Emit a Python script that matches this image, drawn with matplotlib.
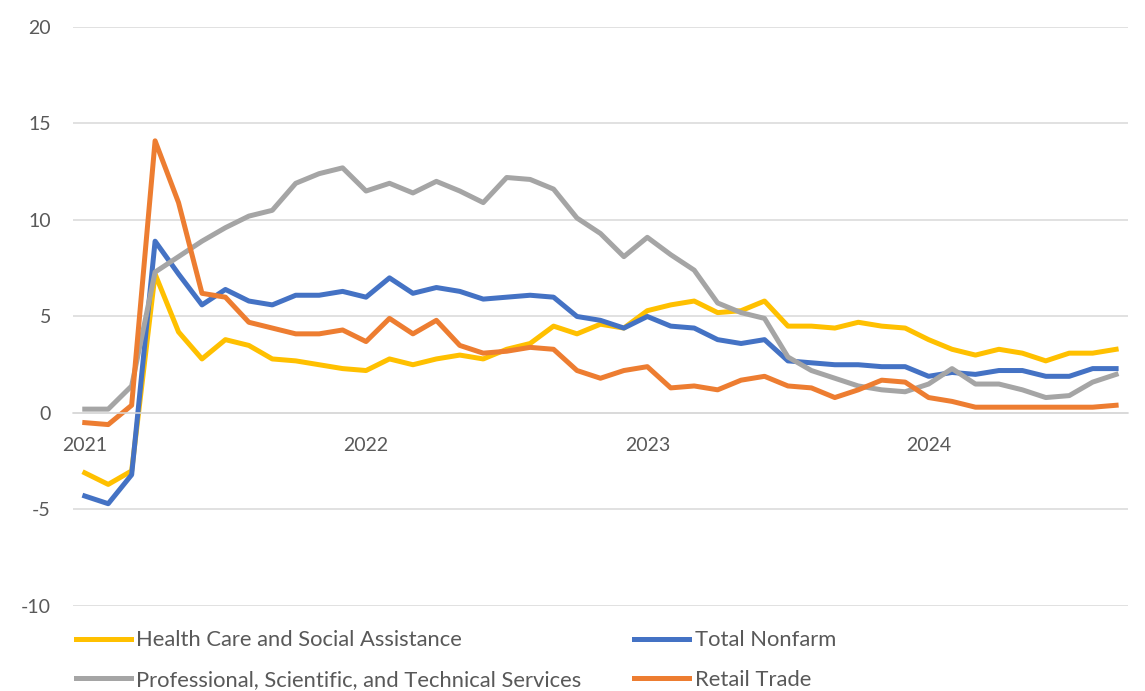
import numpy as np
import matplotlib.pyplot as plt

# monthly, Jan 2021 .. Sep 2024
health_care = [-3.1, -3.7, -3.0, 7.2, 4.2, 2.8, 3.8, 3.5, 2.8, 2.7, 2.5, 2.3,
               2.2, 2.8, 2.5, 2.8, 3.0, 2.8, 3.3, 3.6, 4.5, 4.1, 4.6, 4.4,
               5.3, 5.6, 5.8, 5.2, 5.3, 5.8, 4.5, 4.5, 4.4, 4.7, 4.5, 4.4,
               3.8, 3.3, 3.0, 3.3, 3.1, 2.7, 3.1, 3.1, 3.3]
total_nonfarm = [-4.3, -4.7, -3.2, 8.9, 7.2, 5.6, 6.4, 5.8, 5.6, 6.1, 6.1, 6.3,
                 6.0, 7.0, 6.2, 6.5, 6.3, 5.9, 6.0, 6.1, 6.0, 5.0, 4.8, 4.4,
                 5.0, 4.5, 4.4, 3.8, 3.6, 3.8, 2.7, 2.6, 2.5, 2.5, 2.4, 2.4,
                 1.9, 2.1, 2.0, 2.2, 2.2, 1.9, 1.9, 2.3, 2.3]
professional = [0.2, 0.2, 1.4, 7.3, 8.1, 8.9, 9.6, 10.2, 10.5, 11.9, 12.4, 12.7,
                11.5, 11.9, 11.4, 12.0, 11.5, 10.9, 12.2, 12.1, 11.6, 10.1, 9.3, 8.1,
                9.1, 8.2, 7.4, 5.7, 5.2, 4.9, 2.9, 2.2, 1.8, 1.4, 1.2, 1.1,
                1.5, 2.3, 1.5, 1.5, 1.2, 0.8, 0.9, 1.6, 2.0]
retail = [-0.5, -0.6, 0.4, 14.1, 10.9, 6.2, 6.0, 4.7, 4.4, 4.1, 4.1, 4.3,
          3.7, 4.9, 4.1, 4.8, 3.5, 3.1, 3.2, 3.4, 3.3, 2.2, 1.8, 2.2,
          2.4, 1.3, 1.4, 1.2, 1.7, 1.9, 1.4, 1.3, 0.8, 1.2, 1.7, 1.6,
          0.8, 0.6, 0.3, 0.3, 0.3, 0.3, 0.3, 0.3, 0.4]
year_labels = ['2021', '2022', '2023', '2024']

x = np.arange(len(health_care))
txt = '#595959'
plt.rcParams['font.family'] = ['Lato', 'DejaVu Sans']
plt.rcParams['axes.unicode_minus'] = False

fig = plt.figure(figsize=(11.45, 6.91), dpi=100)
ax = fig.add_axes([0.0638, 0.123, 0.9212, 0.838])

lw = 3.6
l1, = ax.plot(x, health_care, color='#FFC000', lw=lw, label='Health Care and Social Assistance', solid_joinstyle='round')
l2, = ax.plot(x, total_nonfarm, color='#4472C4', lw=lw, label='Total Nonfarm', solid_joinstyle='round')
l3, = ax.plot(x, professional, color='#A5A5A5', lw=lw, label='Professional, Scientific, and Technical Services', solid_joinstyle='round')
l4, = ax.plot(x, retail, color='#ED7D31', lw=lw, label='Retail Trade', solid_joinstyle='round')

ax.set_xlim(-0.5, len(x) - 0.5)
ax.set_ylim(-10, 20)
ax.set_yticks(range(-10, 21, 5))
ax.grid(axis='y', color='#D9D9D9', lw=1.1)
ax.set_axisbelow(True)
for s in ['top', 'right', 'left']:
    ax.spines[s].set_visible(False)
ax.spines['bottom'].set_position(('data', 0))
ax.spines['bottom'].set_color('#D9D9D9')
ax.spines['bottom'].set_linewidth(1.1)
ax.set_xticks([0, 12, 24, 36])
ax.set_xticklabels(year_labels)
ax.tick_params(axis='x', length=0, pad=17, labelsize=14, labelcolor=txt)
ax.tick_params(axis='y', length=0, pad=16, labelsize=14, labelcolor=txt)

leg = fig.legend([l1, l3, l2, l4], [l1.get_label(), l3.get_label(), l2.get_label(), l4.get_label()],
                 ncol=2, loc='upper left', bbox_to_anchor=(0.0664, 0.088), frameon=False,
                 fontsize=15.8, labelcolor=txt, handlelength=2.5, handletextpad=0.25,
                 columnspacing=2.4, labelspacing=0.9, borderaxespad=0, borderpad=0)
for h in leg.legend_handles:
    h.set_linewidth(lw)

fig.savefig('out.png', dpi=100)
